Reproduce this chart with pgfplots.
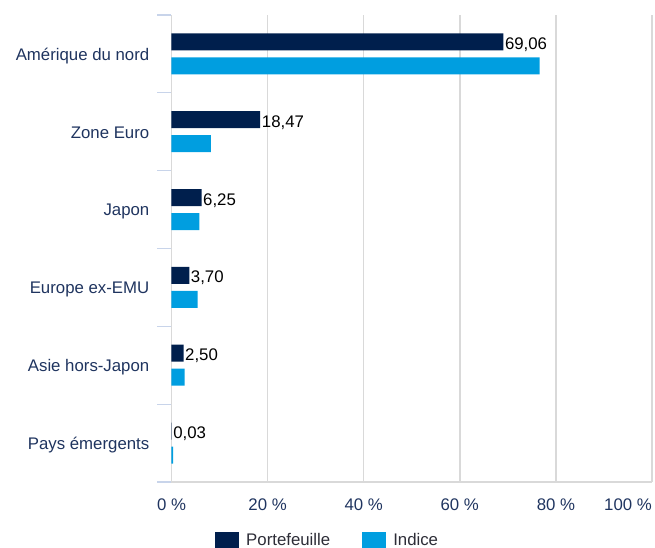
\documentclass[border=0pt]{standalone}
\usepackage{pgfplots}
\pgfplotsset{compat=1.18}
\usepackage{fontspec}
\setmainfont{Liberation Sans}
\definecolor{port}{RGB}{0,31,77}
\definecolor{ind}{RGB}{0,158,224}
\definecolor{navy}{RGB}{31,52,95}
\definecolor{legc}{RGB}{45,45,55}
\definecolor{gridc}{RGB}{217,217,217}
\definecolor{tickc}{RGB}{200,212,234}
\begin{document}
\fontsize{16.8bp}{20bp}\selectfont
\begin{tikzpicture}
\begin{axis}[
  scale only axis, width=480.5bp, height=467bp,
  xbar, bar width=17bp,
  xmin=0, xmax=100, ymin=-0.5, ymax=5.5,
  axis x line*=bottom, axis y line*=left,
  axis line style={gridc, line width=1.5bp},
  xmajorgrids, grid style={gridc, line width=1.5bp},
  /pgf/number format/assume math mode=true,
  xtick={0,20,40,60,80},
  xticklabel={\pgfmathprintnumber{\tick}~\%},
  xticklabel style={text=navy, inner sep=0pt, anchor=base, yshift=-14.7bp},
  xtick style={draw=none},
  extra x ticks={100},
  extra x tick labels={100~\%},
  extra x tick style={grid=major, xticklabel style={anchor=base east}},
  ytick={-0.5,0.5,1.5,2.5,3.5,4.5,5.5},
  yticklabels={},
  tick align=outside, major tick length=14bp,
  ytick style={tickc, line width=1.2bp},
  extra y ticks={0,1,2,3,4,5},
  extra y tick labels={Pays émergents, Asie hors-Japon, Europe ex-EMU, Japon, Zone Euro, Amérique du nord},
  extra y tick style={major tick length=0pt, ytick style={draw=none}},
  yticklabel style={text=navy, inner sep=0pt, anchor=base east, xshift=-22bp, yshift=-6.3bp},
  legend style={at={(0.325,-0.125)}, anchor=center, legend columns=2, draw=none, fill=none, text=legc,
    /tikz/every even column/.append style={column sep=30bp}},
  legend image code/.code={\fill[#1,draw=none] (0bp,-8.5bp) rectangle (24bp,8.5bp); \path (29bp,0bp);},
]
\coordinate (O) at (rel axis cs:0,0);
\addplot[fill=port, draw=none, bar shift=12bp,
  nodes near coords={\pgfmathprintnumber[fixed,fixed zerofill,precision=2,use comma]{\pgfplotspointmeta}},
  nodes near coords style={anchor=base west, inner sep=0pt, xshift=1.5bp, yshift=-7.5bp, text=black}]
  coordinates {(0.03,0) (2.50,1) (3.70,2) (6.25,3) (18.47,4) (69.06,5)};
\addplot[fill=ind, draw=none, bar shift=-12bp]
  coordinates {(0.35,0) (2.75,1) (5.45,2) (5.8,3) (8.2,4) (76.6,5)};
\legend{Portefeuille, Indice}
\end{axis}
\pgfresetboundingbox
\path (O) ++(-171.5bp,-66bp) rectangle ++(655bp,548bp);
\end{tikzpicture}
\end{document}
